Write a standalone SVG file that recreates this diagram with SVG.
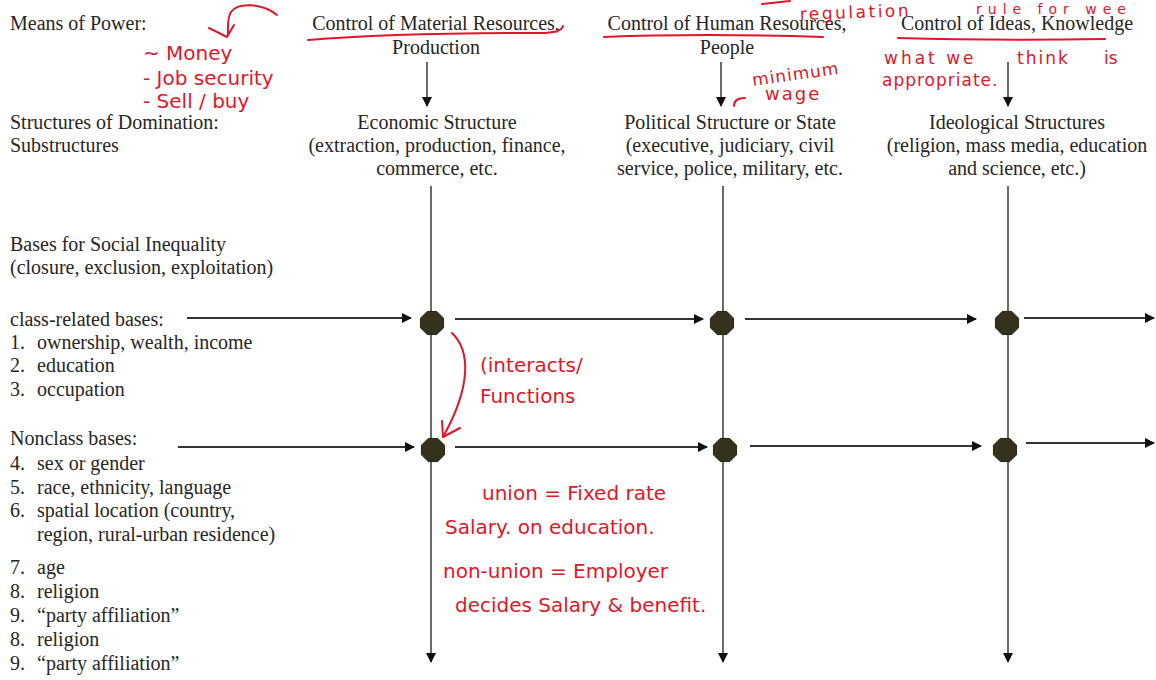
<svg xmlns="http://www.w3.org/2000/svg" width="1156" height="680" viewBox="0 0 1156 680">
<style>
.t{font-family:"Liberation Serif","Times New Roman",serif;font-size:20px;fill:#262626}
.c{text-anchor:middle}
.h{font-family:"DejaVu Sans","Liberation Sans",sans-serif;font-size:20px;fill:#e0162b}
.ink{fill:none;stroke:#e0162b;stroke-width:2;stroke-linecap:round;stroke-linejoin:round}
.v{stroke:#6a6a6a;stroke-width:2;fill:none}
.a{stroke:#333;stroke-width:2;fill:none}
.oct{fill:#34321d;stroke:#25240f;stroke-width:1}
</style>
<defs>
<marker id="ah" viewBox="0 0 10 10" refX="9" refY="5" markerWidth="5" markerHeight="5" orient="auto" markerUnits="strokeWidth">
<path d="M0,0 L10,5 L0,10 z" fill="#111"/>
</marker>
<polygon id="octa" points="11.55,4.78 4.78,11.55 -4.78,11.55 -11.55,4.78 -11.55,-4.78 -4.78,-11.55 4.78,-11.55 11.55,-4.78"/>
</defs>
<rect width="1156" height="680" fill="#fff"/>

<!-- row headers -->
<g id="means-label"><text class="t" x="10" y="30">Means of Power:</text></g>
<g id="structures-label"><text class="t" x="10" y="129">Structures of Domination:</text><text class="t" x="10" y="152">Substructures</text></g>
<g id="bases-label"><text class="t" x="10" y="251">Bases for Social Inequality</text><text class="t" x="10" y="274">(closure, exclusion, exploitation)</text></g>
<g id="class-bases">
<text class="t" x="10" y="326">class-related bases:</text>
<text class="t" x="10" y="349">1.<tspan x="37">ownership, wealth, income</tspan></text>
<text class="t" x="10" y="372">2.<tspan x="37">education</tspan></text>
<text class="t" x="10" y="396">3.<tspan x="37">occupation</tspan></text>
</g>
<g id="nonclass-bases">
<text class="t" x="10" y="445">Nonclass bases:</text>
<text class="t" x="10" y="470">4.<tspan x="37">sex or gender</tspan></text>
<text class="t" x="10" y="494">5.<tspan x="37">race, ethnicity, language</tspan></text>
<text class="t" x="10" y="517">6.<tspan x="37">spatial location (country,</tspan></text>
<text class="t" x="37" y="541">region, rural-urban residence)</text>
<text class="t" x="10" y="574">7.<tspan x="37">age</tspan></text>
<text class="t" x="10" y="598">8.<tspan x="37">religion</tspan></text>
<text class="t" x="10" y="622">9.<tspan x="37">“party affiliation”</tspan></text>
<text class="t" x="10" y="646">8.<tspan x="37">religion</tspan></text>
<text class="t" x="10" y="670">9.<tspan x="37">“party affiliation”</tspan></text>
</g>

<!-- means of power -->
<g id="means-material"><text class="t c" x="436" y="30">Control of Material Resources,</text><text class="t c" x="436" y="54">Production</text></g>
<g id="means-human"><text class="t c" x="727" y="30">Control of Human Resources,</text><text class="t c" x="727" y="54">People</text></g>
<g id="means-ideas"><text class="t c" x="1017" y="30">Control of Ideas, Knowledge</text></g>

<!-- structures -->
<g id="struct-economic"><text class="t c" x="437" y="129">Economic Structure</text><text class="t c" x="437" y="152">(extraction, production, finance,</text><text class="t c" x="437" y="175">commerce, etc.</text></g>
<g id="struct-political"><text class="t c" x="730" y="129">Political Structure or State</text><text class="t c" x="730" y="152">(executive, judiciary, civil</text><text class="t c" x="730" y="175">service, police, military, etc.</text></g>
<g id="struct-ideological"><text class="t c" x="1017" y="129">Ideological Structures</text><text class="t c" x="1017" y="152">(religion, mass media, education</text><text class="t c" x="1017" y="175">and science, etc.)</text></g>

<!-- connectors -->
<g id="connectors">
<line class="v" x1="427" y1="62" x2="427" y2="106" marker-end="url(#ah)"/>
<line class="v" x1="721" y1="62" x2="721" y2="106" marker-end="url(#ah)"/>
<line class="v" x1="1008" y1="62" x2="1008" y2="106" marker-end="url(#ah)"/>
<line class="v" x1="431" y1="186" x2="431" y2="662" marker-end="url(#ah)"/>
<line class="v" x1="723" y1="186" x2="723" y2="662" marker-end="url(#ah)"/>
<line class="v" x1="1008" y1="186" x2="1008" y2="662" marker-end="url(#ah)"/>
<line class="a" x1="187" y1="318" x2="411" y2="318" marker-end="url(#ah)"/>
<line class="a" x1="455" y1="319" x2="703" y2="319" marker-end="url(#ah)"/>
<line class="a" x1="745" y1="319" x2="976" y2="319" marker-end="url(#ah)"/>
<line class="a" x1="1024" y1="318" x2="1154" y2="318" marker-end="url(#ah)"/>
<line class="a" x1="178" y1="447" x2="414" y2="447" marker-end="url(#ah)"/>
<line class="a" x1="455" y1="447" x2="707" y2="447" marker-end="url(#ah)"/>
<line class="a" x1="750" y1="446" x2="981" y2="446" marker-end="url(#ah)"/>
<line class="a" x1="1026" y1="443" x2="1154" y2="443" marker-end="url(#ah)"/>
</g>

<!-- nodes -->
<g id="node-econ-class"><use href="#octa" class="oct" x="432" y="323"/></g>
<g id="node-pol-class"><use href="#octa" class="oct" x="722" y="323"/></g>
<g id="node-ideo-class"><use href="#octa" class="oct" x="1007" y="323"/></g>
<g id="node-econ-nonclass"><use href="#octa" class="oct" x="433" y="450"/></g>
<g id="node-pol-nonclass"><use href="#octa" class="oct" x="725" y="450"/></g>
<g id="node-ideo-nonclass"><use href="#octa" class="oct" x="1005" y="450"/></g>

<!-- handwritten annotations -->
<g id="annotations">
<path class="ink" d="M277,15 C262,3 238,2 231,12 C227,18 228,26 228,35"/>
<path class="ink" d="M209,28 L227,37 L234,25"/>
<text class="h" x="143" y="60">~ Money</text>
<text class="h" x="143" y="85">- Job security</text>
<text class="h" x="143" y="108">- Sell / buy</text>
<path class="ink" d="M308,40 C380,34 470,33 540,33 C555,33 562,30 563,26"/>
<path class="ink" d="M604,37 C680,34 760,35 823,37"/>
<path class="ink" d="M898,38 C970,40 1040,40 1105,39"/>
<path class="ink" d="M762,4 L790,1"/>
<text class="h" x="800" y="20" style="font-size:17px;letter-spacing:2.5px" transform="rotate(-2 800 20)">regulation</text>
<text class="h" x="976" y="14" style="font-size:14px;letter-spacing:6px">rule for wee</text>
<text class="h" x="753" y="86" style="font-size:17px;letter-spacing:1px" transform="rotate(-8 753 86)">minimum</text>
<path class="ink" d="M734,106 C734,101 738,98 745,98"/>
<text class="h" x="765" y="100" style="font-size:18px;letter-spacing:2px">wage</text>
<text class="h" x="884" y="64" style="font-size:17px;letter-spacing:3px">what we</text>
<text class="h" x="1017" y="64" style="font-size:17px;letter-spacing:2px">think</text>
<text class="h" x="1104" y="64" style="font-size:17px">is</text>
<text class="h" x="882" y="86" style="font-size:17px;letter-spacing:1px">appropriate.</text>
<text class="h" x="480" y="372">(interacts/</text>
<text class="h" x="480" y="403">Functions</text>
<path class="ink" d="M452,333 C470,350 472,385 443,437"/>
<path class="ink" d="M442,421 L443,437 L460,428"/>
<text class="h" x="482" y="500">union = Fixed rate</text>
<text class="h" x="445" y="534">Salary. on education.</text>
<text class="h" x="443" y="578">non-union = Employer</text>
<text class="h" x="455" y="612">decides Salary &amp; benefit.</text>
</g>
</svg>
